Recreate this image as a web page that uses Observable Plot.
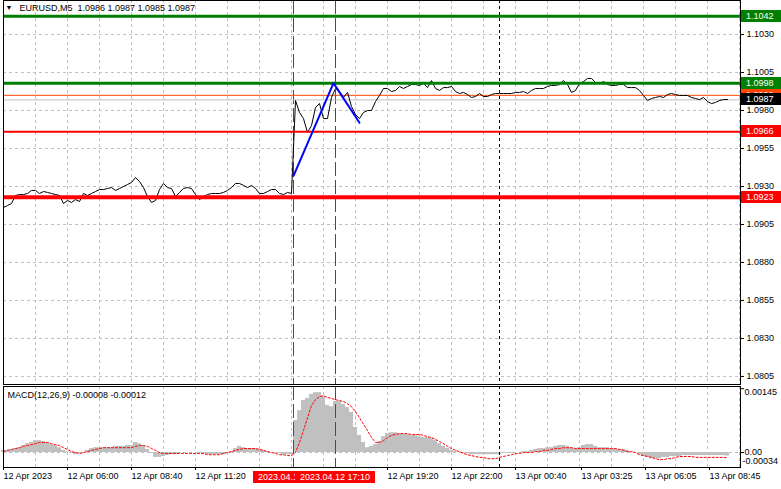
<!DOCTYPE html>
<html>
<head>
<meta charset="utf-8">
<script src="https://cdn.jsdelivr.net/npm/d3@7"></script>
<script src="https://cdn.jsdelivr.net/npm/@observablehq/plot@0.6"></script>
<style>
html,body{margin:0;padding:0;background:#fff;}
#chart{position:relative;width:781px;height:489px;overflow:hidden;background:#fff;}
#main{position:absolute;left:0;top:0;}
#macd{position:absolute;left:0;top:385px;}
svg{overflow:visible;}
</style>
</head>
<body>
<div id="chart"><div id="main"></div><div id="macd"></div></div>
<script>
// ---------------- DATA ----------------
const symbol = "EURUSD,M5";
const ohlc = [1.0986, 1.0987, 1.0985, 1.0987];
const seriesStart = "2023-04-12T03:20Z";   // first sample
const seriesStepMinutes = 10;              // one sample every two M5 bars
const viewEnd = "2023-04-13T10:02:30Z";    // right edge of the visible range

const closes = [
1.09162,1.09175,1.09188,1.09241,1.09247,1.09247,1.09254,1.09274,1.09274,1.09254,
1.09267,1.09261,1.09254,1.09247,1.09241,1.09188,1.09208,1.09195,1.09214,1.09201,
1.09254,1.09241,1.09254,1.09267,1.09280,1.09280,1.09287,1.09293,1.09274,1.09287,
1.09300,1.09313,1.09326,1.09359,1.09333,1.09293,1.09234,1.09195,1.09208,1.09280,
1.09320,1.09293,1.09287,1.09234,1.09261,1.09287,1.09293,1.09287,1.09247,1.09214,
1.09234,1.09247,1.09254,1.09254,1.09254,1.09261,1.09274,1.09293,1.09320,1.09320,
1.09307,1.09293,1.09307,1.09287,1.09254,1.09254,1.09267,1.09280,1.09280,1.09254,
1.09247,1.09261,1.09254,1.09866,1.09787,1.09747,1.09655,1.09701,1.09820,1.09846,
1.09747,1.09747,1.09886,1.09945,1.09925,1.09886,1.09919,1.09826,1.09774,1.09747,
1.09787,1.09800,1.09800,1.09859,1.09899,1.09945,1.09945,1.09925,1.09932,1.09958,
1.09945,1.09958,1.09971,1.09971,1.09965,1.09978,1.09951,1.09997,1.09945,1.09932,
1.09951,1.09951,1.09958,1.09925,1.09912,1.09919,1.09905,1.09886,1.09892,1.09912,
1.09892,1.09892,1.09905,1.09912,1.09912,1.09912,1.09912,1.09912,1.09919,1.09919,
1.09925,1.09912,1.09932,1.09945,1.09945,1.09945,1.09958,1.09965,1.09965,1.09971,
1.09997,1.09971,1.09919,1.09932,1.09978,1.09991,1.10011,1.10011,1.09984,1.09978,
1.09991,1.09971,1.09965,1.09965,1.09971,1.09971,1.09951,1.09951,1.09951,1.09932,
1.09899,1.09866,1.09879,1.09886,1.09892,1.09886,1.09905,1.09912,1.09905,1.09899,
1.09899,1.09899,1.09886,1.09879,1.09872,1.09886,1.09859,1.09846,1.09853,1.09866,
1.09872,1.09872];

const macdName = "MACD(12,26,9)";
const macdMain = [
0.00005,0.00005,0.00007,0.00009,0.00011,0.00016,0.00020,0.00023,0.00027,0.00027,
0.00025,0.00023,0.00018,0.00016,0.00011,0.00005,0.00002,-0.00002,-0.00005,-0.00002,
0,0.00005,0.00009,0.00011,0.00011,0.00011,0.00011,0.00011,0.00014,0.00014,
0.00014,0.00016,0.00016,0.00023,0.00020,0.00016,0.00007,-0.00002,-0.00011,-0.00011,
-0.00009,-0.00007,-0.00005,-0.00005,-0.00002,0,0,0,0,-0.00002,
-0.00002,-0.00005,-0.00005,-0.00005,-0.00005,-0.00005,-0.00002,0.00002,0.00009,0.00014,
0.00011,0.00009,0.00009,0.00009,0.00007,0.00005,0.00002,0,-0.00002,-0.00002,
-0.00005,-0.00005,-0.00005,0.00073,0.00095,0.00118,0.00123,0.00132,0.00136,0.00136,
0.00127,0.00107,0.00104,0.00116,0.00116,0.00109,0.00102,0.00091,0.00057,0.00039,
0.00023,0.00011,0.00014,0.00018,0.00025,0.00036,0.00043,0.00045,0.00045,0.00043,
0.00041,0.00041,0.00039,0.00039,0.00036,0.00034,0.00034,0.00032,0.00027,0.00020,
0.00014,0.00009,0.00005,0.00002,0,-0.00002,-0.00002,-0.00005,-0.00005,-0.00005,
-0.00005,-0.00005,-0.00005,-0.00005,-0.00005,-0.00002,-0.00002,-0.00002,0,0,
0.00002,0.00002,0.00005,0.00007,0.00009,0.00009,0.00011,0.00011,0.00014,0.00016,
0.00016,0.00014,0.00011,0.00009,0.00011,0.00016,0.00018,0.00018,0.00014,0.00011,
0.00011,0.00011,0.00009,0.00009,0.00007,0.00007,0.00005,0.00002,0,-0.00005,
-0.00009,-0.00011,-0.00014,-0.00014,-0.00014,-0.00011,-0.00011,-0.00009,-0.00009,-0.00009,
-0.00007,-0.00007,-0.00007,-0.00007,-0.00007,-0.00007,-0.00007,-0.00007,-0.00007,-0.00007,
-0.00007,-0.00008];

const macdSignal = [
0.00002,0.00005,0.00007,0.00009,0.00011,0.00014,0.00016,0.00018,0.00020,0.00023,
0.00023,0.00023,0.00020,0.00018,0.00016,0.00011,0.00007,0.00002,0,-0.00002,
0,0.00002,0.00005,0.00007,0.00009,0.00011,0.00011,0.00011,0.00011,0.00011,
0.00011,0.00011,0.00011,0.00014,0.00016,0.00016,0.00014,0.00009,0.00005,0,
-0.00002,-0.00002,-0.00002,-0.00002,-0.00002,-0.00002,-0.00002,-0.00002,-0.00002,-0.00002,
-0.00002,-0.00005,-0.00005,-0.00005,-0.00005,-0.00002,0,0.00002,0.00005,0.00007,
0.00009,0.00009,0.00009,0.00009,0.00007,0.00005,0.00002,0,-0.00002,-0.00005,
-0.00005,-0.00007,-0.00007,0,0.00023,0.00050,0.00079,0.00107,0.00120,0.00127,
0.00129,0.00125,0.00123,0.00120,0.00118,0.00116,0.00111,0.00104,0.00093,0.00079,
0.00064,0.00050,0.00034,0.00023,0.00023,0.00027,0.00034,0.00039,0.00041,0.00043,
0.00043,0.00043,0.00041,0.00041,0.00041,0.00039,0.00036,0.00034,0.00030,0.00025,
0.00020,0.00014,0.00009,0.00005,0.00002,-0.00002,-0.00005,-0.00007,-0.00009,-0.00011,
-0.00011,-0.00014,-0.00014,-0.00014,-0.00011,-0.00009,-0.00007,-0.00005,-0.00002,-0.00002,
0,0,0,0.00002,0.00002,0.00005,0.00005,0.00007,0.00009,0.00009,
0.00011,0.00011,0.00011,0.00009,0.00009,0.00009,0.00009,0.00009,0.00009,0.00009,
0.00009,0.00009,0.00009,0.00009,0.00007,0.00005,0.00002,0.00002,0,-0.00005,
-0.00007,-0.00009,-0.00011,-0.00014,-0.00016,-0.00016,-0.00014,-0.00014,-0.00011,-0.00009,
-0.00009,-0.00009,-0.00009,-0.00011,-0.00011,-0.00011,-0.00011,-0.00011,-0.00011,-0.00011,
-0.00011,-0.00012];

// horizontal levels
const resistanceLevels = [1.1042, 1.0998];
const supportLevels = [1.0966, 1.0923];
const bidPrice = 1.0987;
const askPrice = 1.0990;

// blue wave drawn on the chart
const waveTimes = ["2023-04-12T15:25Z", "2023-04-12T17:05Z", "2023-04-12T18:10Z"];
const wavePrices = [1.0937, 1.0998, 1.0972];

// vertical markers
const markerTimes = ["2023-04-12T15:25Z", "2023-04-12T17:10Z"];
const markerLabels = ["2023.04.12 15:25", "2023.04.12 17:10"];
const daySeparator = "2023-04-13T00:00Z";

// axes
const priceTicks = [1.1030, 1.1005, 1.0980, 1.0955, 1.0930, 1.0905, 1.0880, 1.0855, 1.0830, 1.0805];
const macdTop = 0.00145, macdBottom = -0.00034;
const timeTicks = ["2023-04-12T03:20Z","2023-04-12T06:00Z","2023-04-12T08:40Z","2023-04-12T11:20Z",
  "2023-04-12T19:20Z","2023-04-12T22:00Z","2023-04-13T00:40Z","2023-04-13T03:25Z","2023-04-13T06:05Z","2023-04-13T08:45Z"];
const timeTickLabels = ["12 Apr 2023","12 Apr 06:00","12 Apr 08:40","12 Apr 11:20",
  "12 Apr 19:20","12 Apr 22:00","13 Apr 00:40","13 Apr 03:25","13 Apr 06:05","13 Apr 08:45"];

// ---------------- BUILD ----------------
const W = 781;
const FONT = "'Liberation Sans', Arial, sans-serif";
const FS = 9;
const MIN = 60000;
const GRID = "#c0c0c0";
const t0 = new Date(seriesStart);
const tEnd = new Date(viewEnd);
const xDomain = [t0, tEnd];
const rows = closes.map((c, i) => ({
  t: new Date(+t0 + i * seriesStepMinutes * MIN), close: c, macd: macdMain[i], signal: macdSignal[i]
}));
const wave = waveTimes.map((t, i) => ({t: new Date(t), price: wavePrices[i]}));
const markers = markerTimes.map(t => new Date(t));
const daySep = new Date(daySeparator);
const gridTimes = d3.range(0, (tEnd - t0) / MIN, 80).map(m => new Date(+t0 + m * MIN));
const tickMap = new Map(timeTicks.map((t, i) => [+new Date(t), timeTickLabels[i]]));

const priceTags = [
  {price: resistanceLevels[0], bg: "#008000", fg: "#ffffff"},
  {price: resistanceLevels[1], bg: "#008000", fg: "#ffffff"},
  {price: supportLevels[0], bg: "#ff0000", fg: "#ffffff"},
  {price: supportLevels[1], bg: "#ff0000", fg: "#ffffff"},
  {price: askPrice, bg: "#ff4500", fg: "#ffffff"},
  {price: bidPrice, bg: "#000000", fg: "#ffffff"}
];

function tagMark(list) {
  return (index, scales, values, dims) => {
    const g = d3.create("svg:g").attr("font-family", FONT).attr("font-size", FS).attr("text-anchor", "start");
    const x0 = dims.width - dims.marginRight + 1;
    for (const d of list) {
      const y = Math.round(scales.y(d.price));
      g.append("rect").attr("x", x0).attr("y", y - 6).attr("width", dims.marginRight - 1).attr("height", 12).attr("fill", d.bg);
      g.append("text").attr("x", x0 + 5).attr("y", y).attr("dy", "0.35em").attr("text-anchor", "start").attr("fill", d.fg).text(d.price.toFixed(4));
    }
    return g.node();
  };
}

function markerLabelMark() {
  return (index, scales, values, dims) => {
    const g = d3.create("svg:g").attr("font-family", FONT).attr("font-size", FS);
    const yTop = dims.height - dims.marginBottom + 4;
    markers.forEach((t, i) => {
      const cx = scales.x(t);
      g.append("rect").attr("x", cx - 40).attr("y", yTop).attr("width", 80).attr("height", 12).attr("fill", "#ff0000");
      g.append("text").attr("x", cx).attr("y", yTop + 6).attr("dy", "0.35em").attr("text-anchor", "middle").attr("fill", "#ffffff").text(markerLabels[i]);
    });
    return g.node();
  };
}

const levelStyles = [
  {price: resistanceLevels[0], color: "#008000", w: 3},
  {price: resistanceLevels[1], color: "#008000", w: 3},
  {price: supportLevels[0], color: "#ff0000", w: 2},
  {price: supportLevels[1], color: "#ff0000", w: 4}
];

const main = Plot.plot({
  width: W, height: 386,
  marginLeft: 3, marginRight: 41, marginTop: 0, marginBottom: 2,
  style: {fontFamily: FONT, fontSize: FS + "px", background: "transparent", color: "#000"},
  x: {type: "utc", domain: xDomain, axis: null},
  y: {domain: [1.07997, 1.10524], axis: null},
  marks: [
    Plot.ruleX(gridTimes, {stroke: GRID, strokeDasharray: "3,3"}),
    Plot.ruleY(priceTicks, {stroke: GRID, strokeDasharray: "3,3"}),
    Plot.ruleX([daySep], {stroke: "#000", strokeDasharray: "3,3"}),
    Plot.ruleX(markers, {stroke: "#ff0000", strokeDasharray: "14,4"}),
    Plot.ruleY([bidPrice], {stroke: "#c0c0c0"}),
    Plot.ruleY([askPrice], {stroke: "#ff4500"}),
    Plot.line(rows, {x: "t", y: "close", stroke: "#000", strokeWidth: 1}),
    ...levelStyles.map(l => Plot.ruleY([l.price], {stroke: l.color, strokeWidth: l.w})),
    Plot.line(wave, {x: "t", y: "price", stroke: "#0000ff", strokeWidth: 2}),
    Plot.axisY(priceTicks, {anchor: "right", tickSize: 3, tickPadding: 3, tickFormat: d3.format(".4f"), label: null, fontSize: FS}),
    tagMark(priceTags),
    Plot.frame({stroke: "#000"}),
    Plot.text(["▼"], {text: d => d, frameAnchor: "top-left", dx: 2, dy: 5, fontSize: 7, textAnchor: "start"}),
    Plot.text([symbol + "  " + ohlc.map(v => v.toFixed(4)).join(" ")], {text: d => d, frameAnchor: "top-left", dx: 16, dy: 4, fontSize: FS, textAnchor: "start", fill: "#000"})
  ]
});
document.getElementById("main").appendChild(main);

const macdLast = macdMain[macdMain.length - 1], sigLast = macdSignal[macdSignal.length - 1];
const macdPlot = Plot.plot({
  width: W, height: 104,
  marginLeft: 3, marginRight: 41, marginTop: 1, marginBottom: 22,
  style: {fontFamily: FONT, fontSize: FS + "px", background: "transparent", color: "#000"},
  x: {type: "utc", domain: xDomain, axis: null},
  y: {domain: [macdBottom, 0.0015], axis: null},
  marks: [
    Plot.ruleX(gridTimes, {stroke: GRID, strokeDasharray: "3,3"}),
    Plot.ruleY([0], {stroke: GRID, strokeDasharray: "3,3"}),
    Plot.rect(rows, {x1: d => new Date(+d.t - 5 * MIN), x2: d => new Date(+d.t + 5 * MIN), y1: d => 0, y2: "macd", fill: "#c0c0c0"}),
    Plot.line(rows, {x: "t", y: "signal", stroke: "#ff0000", strokeDasharray: "2,2", strokeWidth: 1}),
    Plot.ruleX([daySep], {stroke: "#000", strokeDasharray: "3,3"}),
    Plot.ruleX(markers, {stroke: "#ff0000", strokeDasharray: "14,4"}),
    Plot.frame({stroke: "#000"}),
    Plot.axisY([macdTop, 0], {anchor: "right", tickSize: 3, tickFormat: () => "", label: null}),
    Plot.text([macdTop], {y: d => d, text: d => d.toFixed(5), frameAnchor: "right", dx: 4, dy: 3, textAnchor: "start", fontSize: FS}),
    Plot.text([0], {y: d => d, text: d => d.toFixed(2), frameAnchor: "right", dx: 4, textAnchor: "start", fontSize: FS}),
    Plot.text([macdBottom], {y: d => d, text: d => d.toFixed(5), frameAnchor: "right", dx: 2, dy: -6, textAnchor: "start", fontSize: FS}),
    Plot.text([`${macdName} ${macdLast.toFixed(5)} ${sigLast.toFixed(5)}`], {text: d => d, frameAnchor: "top-left", dx: 4, dy: 5, textAnchor: "start", fontSize: FS}),
    Plot.axisX(timeTicks.map(t => new Date(t)), {anchor: "bottom", tickSize: 3, tickPadding: 2, textAnchor: "start", tickFormat: d => tickMap.get(+d), label: null, fontSize: FS}),
    markerLabelMark()
  ]
});
document.getElementById("macd").appendChild(macdPlot);
</script>
</body>
</html>
